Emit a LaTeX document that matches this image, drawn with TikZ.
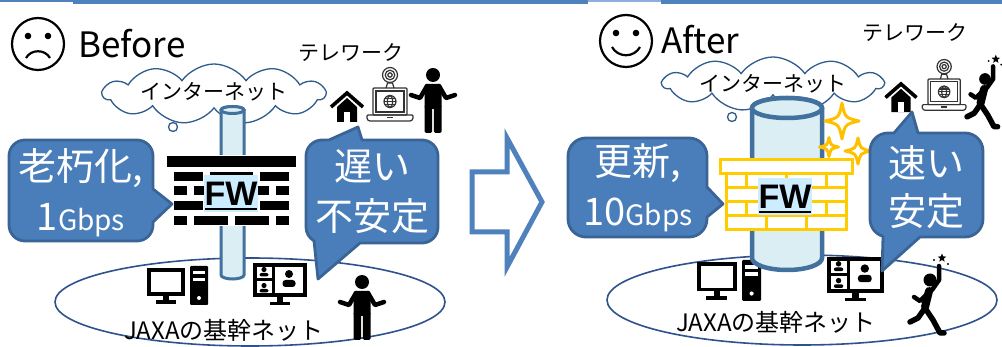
\documentclass[tikz,border=0pt]{standalone}
\usepackage{fontspec}
\setmainfont{Noto Sans CJK JP}
\newfontfamily\fwfont{Liberation Sans}
\usetikzlibrary{shapes.symbols,shapes.geometric}

\definecolor{topblue}{HTML}{4F81BD}
\definecolor{toplight}{HTML}{8EAEDA}
\definecolor{bubblefill}{HTML}{4A7EBB}
\definecolor{bubbleline}{HTML}{3A6496}
\definecolor{pipefill}{HTML}{DAEEF3}
\definecolor{pipeline}{HTML}{41719C}
\definecolor{cloudline}{HTML}{2E5C8C}
\definecolor{netline}{HTML}{2F528F}
\definecolor{fwfill}{HTML}{CCECFF}
\definecolor{gold}{HTML}{FFC000}
\definecolor{brickgold}{HTML}{FFCC00}
\definecolor{arrowblue}{HTML}{4F81BD}

\tikzset{
  bubble/.style={fill=bubblefill, draw=bubbleline, line width=2.8, line join=round},
  bubbletext/.style={text=white, align=center, inner sep=0, font=\fontsize{38}{50}\selectfont},
  pipestyle/.style={fill=pipefill, draw=pipeline},
  cloudbox/.style={cloud, cloud puffs=11, cloud puff arc=110, cloud ignores aspect,
    draw=cloudline, fill=white, line width=1.3, inner sep=0},
  netring/.style={draw=netline, line width=1.6},
  fwlabel/.style={fill=fwfill, inner sep=0, minimum width=54pt, minimum height=37pt,
    font=\fwfont\bfseries\fontsize{34}{34}\selectfont},
  brick/.style={fill=white, draw=brickgold, line width=3},
  sparkleline/.style={draw=gold, fill=white, line width=3, line join=round},
  lapline/.style={draw=black!80, line width=1.2},
  % monitor with a tower PC
  desktop/.pic={
    \draw[line width=3.6] (1.8,1.8) rectangle (36.2,26.2);
    \fill (16,28) rectangle (22,34);
    \fill (9,32.5) rectangle (29,36);
    \fill[rounded corners=1] (43,-2) rectangle (61,37);
    \fill[white] (46,3) rectangle (58,6.5);
    \fill[white] (46,10) rectangle (58,13.5);
    \fill[white] (52,30) circle (2);
  },
  % monitor showing a video meeting
  videomon/.pic={
    \draw[line width=3.6] (1.8,1.8) rectangle (52.2,32.2);
    \draw[line width=3] (20,1.8) -- (20,32.2);
    \draw[line width=3] (1.8,17) -- (20,17);
    \fill (11,6.5) circle (2.6);
    \fill[rounded corners=2] (6.5,10) rectangle (15.5,13.5);
    \fill (11,22.5) circle (2.6);
    \fill[rounded corners=2] (6.5,26) rectangle (15.5,29.5);
    \fill (36,11) circle (4);
    \fill[rounded corners=3] (29.5,17) rectangle (42.5,24);
    \fill (24,34) rectangle (30,40);
    \fill (17,39) rectangle (37,42);
  },
  % standing person with a shrug
  shrug/.pic={
    \fill (0,0) circle (7);
    \fill[rounded corners=2.5] (-8.5,9) rectangle (8.5,34);
    \fill[rounded corners=1.5] (-8.5,30) rectangle (-0.8,58);
    \fill[rounded corners=1.5] (0.8,30) rectangle (8.5,58);
    \draw[line width=4.5, line cap=round, line join=round] (-6,11) -- (-13,23) -- (-22,20);
    \draw[line width=4.5, line cap=round, line join=round] (6,11) -- (13,23) -- (22,20);
  },
  % cheerful running person
  runner/.pic={
    \fill (0,0) circle (6.5);
    \draw[line width=8, line cap=round] (-1,11) -- (-5,27);
    \draw[line width=4.5, line cap=round, line join=round] (2,10) -- (9,0) -- (9,-14);
    \draw[line width=4.5, line cap=round, line join=round] (-2,13) -- (-10,21) -- (-16,17);
    \draw[line width=5.5, line cap=round, line join=round] (-5,28) -- (3,40) -- (10,53) -- (14,53);
    \draw[line width=5.5, line cap=round, line join=round] (-5,28) -- (-12,38) -- (-20,42);
    \node[star, star points=5, star point ratio=2.3, fill, inner sep=0, minimum size=9pt] at (12,-22) {};
    \fill (4,-20) circle (1.1);
    \fill (18,-16) circle (1.1);
  },
  house/.pic={
    \fill (-10,15) -- (0,6) -- (10,15) -- (10,30) -- (-10,30) -- cycle;
    \draw[line width=3.6, line join=miter] (-16,15) -- (0,1) -- (16,15);
    \fill[white] (-3,20) rectangle (3,30);
  },
  laptop/.pic={
    \draw[lapline, rounded corners=1] (0,0) rectangle (34,27);
    \draw[lapline] (3,3) rectangle (31,24);
    \draw[lapline, rounded corners=1] (-6,27) -- (40,27) -- (40,31) -- (38,33) -- (-4,33) -- (-6,31) -- cycle;
    \draw[lapline] (14,29.5) -- (20,29.5);
    \draw[lapline] (17,13.5) circle (6);
    \draw[lapline] (17,13.5) ellipse [x radius=2.6, y radius=6];
    \draw[lapline] (11,13.5) -- (23,13.5);
    \draw[lapline] (12,10.5) -- (22,10.5);
    \draw[lapline] (12,16.5) -- (22,16.5);
    \draw[lapline] (13,0) -- (14.5,-5) -- (19.5,-5) -- (21,0);
    \draw[lapline, fill=white] (17,-13) circle (7.5);
    \draw[lapline] (17,-13) circle (4.8);
    \draw[lapline] (17,-13) circle (2.2);
  },
  sparkle/.pic={
    \draw[sparkleline] (0,-1) .. controls (0.18,-0.18) .. (1,0)
      .. controls (0.18,0.18) .. (0,1)
      .. controls (-0.18,0.18) .. (-1,0)
      .. controls (-0.18,-0.18) .. (0,-1) -- cycle;
  },
}

\begin{document}
\begin{tikzpicture}[x=1pt,y=-1pt]
\useasboundingbox (0,0) rectangle (1002,347);
\fill[white] (0,0) rectangle (1002,347);

% header rule
\fill[topblue] (0,0) rectangle (73,2.4);
\fill[topblue] (73,0) rectangle (588,3.6);
\fill[toplight] (588,0) rectangle (661,2.4);
\fill[topblue] (661,0) rectangle (1002,3.6);

% ---------------- Before ----------------
\draw[line width=2.2] (38,44) circle (26);
\fill (28,36) circle (3.3);
\fill (48,36) circle (3.3);
\draw[line width=2.2] (26,58) .. controls (31,49) and (45,49) .. (50,58);
\node[font=\fontsize{35}{35}\selectfont, anchor=west, inner sep=0] (before) at (78,44) {Before};

% JAXA backbone network
\draw[netring] (250,302) ellipse [x radius=195, y radius=44];
\node[font=\fontsize{24}{24}\selectfont, inner sep=0] (jaxaL) at (224,330) {JAXAの基幹ネット};
\pic at (147,268) {desktop};
\pic at (253,263) {videomon};
\pic at (362,282) {shrug};

% internet cloud
\node[cloudbox, minimum width=222pt, minimum height=60pt] (cloudL) at (214,94) {};
\draw[draw=cloudline, fill=white, line width=1.3] (173,127) circle (4.5);
\node[font=\fontsize{21}{21}\selectfont, inner sep=0] (netL) at (214,92) {インターネット};

% telework
\node[font=\fontsize{21}{21}\selectfont, inner sep=0] (teleL) at (351,53) {テレワーク};
\pic at (347,92) {house};
\pic at (373,88) {laptop};
\pic at (433,75) {shrug};

% link through the old firewall
\draw[pipestyle, line width=3] (221,110) -- (221,275)
  arc [start angle=180, end angle=0, x radius=11.5, y radius=4] -- (244,110)
  arc [start angle=0, end angle=-180, x radius=11.5, y radius=3.5] -- cycle;
\draw[pipestyle, line width=3] (232.5,110) ellipse [x radius=11.5, y radius=3.5];

% old firewall (black bricks)
\fill[white] (167,155) rectangle (296,226);
\fill (167,156) rectangle (296,167);
\foreach \y in {172,201} {
  \fill (174,\y) rectangle (203,\y+9);
  \fill (210,\y) rectangle (253,\y+9);
  \fill (260,\y) rectangle (289,\y+9);
}
\foreach \y in {186,216} {
  \fill (174,\y) rectangle (187,\y+9);
  \fill (194,\y) rectangle (228,\y+9);
  \fill (235,\y) rectangle (269,\y+9);
  \fill (276,\y) rectangle (289,\y+9);
}
\node[fwlabel] (fwL) at (231,193.5) {FW};
\draw[line width=2.4] ([xshift=1pt,yshift=3pt]fwL.south west) -- ([xshift=-1pt,yshift=3pt]fwL.south east);

% callouts
\draw[bubble] (25,140) -- (137,140) arc [start angle=-90, end angle=0, radius=16]
  -- (153,189) -- (172,204) -- (153,222) -- (153,225)
  arc [start angle=0, end angle=90, radius=16] -- (25,241)
  arc [start angle=90, end angle=180, radius=16] -- (9,156)
  arc [start angle=180, end angle=270, radius=16] -- cycle;
\node[bubbletext] (oldL) at (81,193) {老朽化,\\1{\fontsize{28}{50}\selectfont Gbps}};

\draw[bubble] (322,140) -- (329,140) -- (358,127) -- (362,140) -- (422,140)
  arc [start angle=-90, end angle=0, radius=16] -- (438,227)
  arc [start angle=0, end angle=90, radius=16] -- (360,243) -- (318,279)
  -- (314,240.86) arc [start angle=120, end angle=180, radius=16] -- (306,156)
  arc [start angle=180, end angle=270, radius=16] -- cycle;
\node[bubbletext] (slowL) at (372,192) {遅い\\不安定};

% ---------------- transition arrow ----------------
\draw[draw=arrowblue, fill=white, line width=5, line join=miter] (472,172) -- (507,172)
  -- (507,138) -- (542,202) -- (507,267) -- (507,232) -- (472,232) -- cycle;

% ---------------- After ----------------
\draw[line width=2.2] (626,41) circle (26);
\fill (616,33) circle (3.3);
\fill (636,33) circle (3.3);
\draw[line width=2.2] (612,47) .. controls (618,58) and (634,58) .. (640,47);
\node[font=\fontsize{35}{35}\selectfont, anchor=west, inner sep=0] (after) at (661,40) {After};

\draw[netring] (802,300) ellipse [x radius=195, y radius=45];
\node[font=\fontsize{24}{24}\selectfont, inner sep=0] (jaxaR) at (776,322) {JAXAの基幹ネット};
\pic[scale=1.05] at (697,262) {desktop};
\pic[scale=1.05] at (827,257) {videomon};
\pic at (930,280) {runner};

\node[cloudbox, minimum width=220pt, minimum height=54pt] (cloudR) at (773,84) {};
\draw[draw=cloudline, fill=white, line width=1.3] (732,117) circle (4.5);
\node[font=\fontsize{21}{21}\selectfont, inner sep=0] (netR) at (773,84) {インターネット};

\node[font=\fontsize{21}{21}\selectfont, inner sep=0] (teleR) at (915,33) {テレワーク};
\pic[scale=0.97] at (901,83) {house};
\pic[scale=0.95] at (928,79) {laptop};
\pic[scale=0.9] at (985,79) {runner};

% wide link through the new firewall
\draw[pipestyle, line width=4.5] (752,108) -- (752,258)
  arc [start angle=180, end angle=0, x radius=35, y radius=12] -- (822,108)
  arc [start angle=0, end angle=-180, x radius=35, y radius=10] -- cycle;
\draw[pipestyle, line width=4.5] (787,108) ellipse [x radius=35, y radius=10];

% sparkles
\pic[xscale=17, yscale=18] at (842,121) {sparkle};
\pic[scale=9.5] at (829,147) {sparkle};
\pic[scale=13] at (858,151) {sparkle};

% new firewall (yellow bricks)
\draw[brick] (720,160) rectangle (852,174);
\draw[brick] (726,174) rectangle (846,230);
\foreach \y in {188,202,216} \draw[brickgold, line width=3] (726,\y) -- (846,\y);
\foreach \y in {174,202} \foreach \x in {746,786,826} \draw[brickgold, line width=3] (\x,\y) -- (\x,\y+14);
\foreach \y in {188,216} \foreach \x in {766,806} \draw[brickgold, line width=3] (\x,\y) -- (\x,\y+14);
\node[fwlabel] (fwR) at (785,196.5) {FW};
\draw[line width=2.4] ([xshift=1pt,yshift=3pt]fwR.south west) -- ([xshift=-1pt,yshift=3pt]fwR.south east);

% callouts
\draw[bubble] (586,138) -- (689,138) arc [start angle=-90, end angle=0, radius=18]
  -- (707,187) -- (723,204) -- (707,217) -- (707,219)
  arc [start angle=0, end angle=90, radius=18] -- (586,237)
  arc [start angle=90, end angle=180, radius=18] -- (568,156)
  arc [start angle=180, end angle=270, radius=18] -- cycle;
\node[bubbletext] (newR) at (638,188) {更新,\\10{\fontsize{28}{50}\selectfont Gbps}};

\draw[bubble] (888,133) -- (894,133) -- (912,112) -- (918,133) -- (965,133)
  arc [start angle=-90, end angle=0, radius=18] -- (983,219)
  arc [start angle=0, end angle=90, radius=18] -- (920,237) -- (882,271)
  -- (883.04,236.3) arc [start angle=106, end angle=180, radius=18] -- (870,151)
  arc [start angle=180, end angle=270, radius=18] -- cycle;
\node[bubbletext, font=\fontsize{38}{48}\selectfont] (fastR) at (926,187) {速い\\安定};

\end{tikzpicture}
\end{document}
